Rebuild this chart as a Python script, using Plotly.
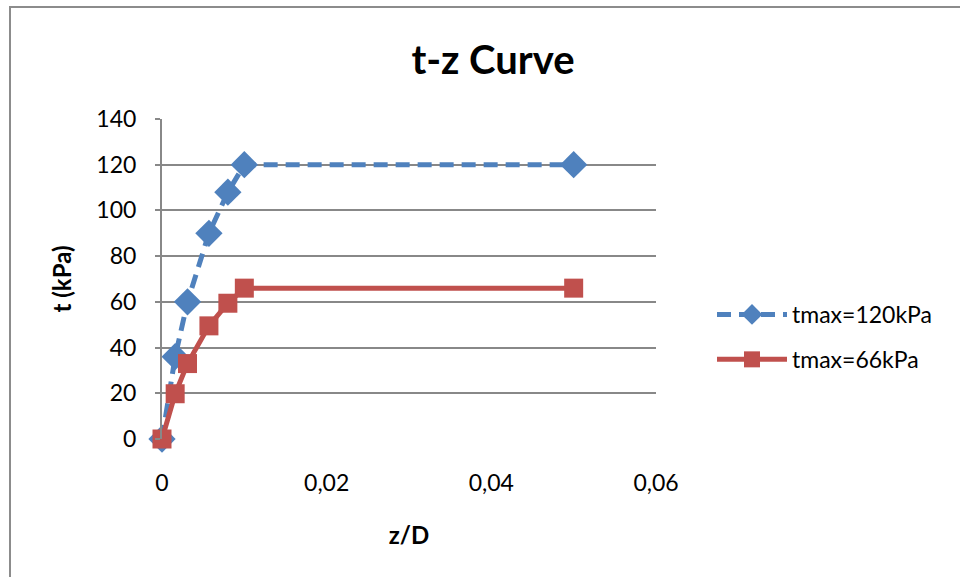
import plotly.graph_objects as go

# Data
zD = [0, 0.0016, 0.0031, 0.0057, 0.0080, 0.0100, 0.0500]
t_120 = [0, 36, 60, 90, 108, 120, 120]
t_66 = [0, 19.8, 33, 49.5, 59.4, 66, 66]
names = ["tmax=120kPa", "tmax=66kPa"]
x_ticks = [0, 0.02, 0.04, 0.06]
y_ticks = [0, 20, 40, 60, 80, 100, 120, 140]

FONT = "Lato, Calibri, 'Open Sans', sans-serif"
BLUE = "#4F81BD"
RED = "#C0504D"

fig = go.Figure()
fig.add_trace(go.Scatter(
    x=zD, y=t_120, name=names[0], mode="lines+markers", legendgroup="a",
    cliponaxis=False,
    line=dict(color=BLUE, width=5, dash="14px,8px"),
    marker=dict(symbol="diamond", size=21, color=BLUE),
))
fig.add_trace(go.Scatter(
    x=zD, y=t_66, name=names[1], mode="lines+markers", legendgroup="b",
    cliponaxis=False,
    line=dict(color=RED, width=5),
    marker=dict(symbol="square", size=19, color=RED),
))

L, R, T, B = 162, 656, 119, 439
W, H = 960, 577
pw, ph = R - L, B - T

def px(x):
    return (x - L) / pw

def py(y):
    return (B - y) / ph

fig.update_layout(
    width=W, height=H,
    margin=dict(l=L, r=W - R, t=T, b=H - B),
    paper_bgcolor="white", plot_bgcolor="white",
    separators=", ",
    font=dict(family=FONT, size=23, color="#000000"),
    title=dict(text="<b>t-z Curve</b>", x=493 / W, xref="container", xanchor="center",
               y=1 - 60 / H, yanchor="middle", font=dict(size=40)),
    showlegend=True,
    legend=dict(x=px(712), y=py(337), xref="paper", yref="paper",
                xanchor="left", yanchor="middle", font=dict(size=23),
                itemwidth=70,
                tracegroupgap=12, bgcolor="rgba(0,0,0,0)"),
    xaxis=dict(range=[0, 0.06], tickvals=x_ticks, showgrid=False, zeroline=False,
               showline=False, ticks="", ticklabelstandoff=28,
               title=dict(text="<b>z/D</b>", font=dict(size=24), standoff=32)),
    yaxis=dict(range=[0, 140], tickvals=y_ticks, showgrid=True, gridcolor="#888888",
               gridwidth=2, zeroline=False, showline=True, linecolor="#888888",
               linewidth=2, ticks="outside", ticklen=5, tickcolor="#888888",
               tickwidth=2, ticklabelstandoff=14,
               title=dict(text="<b>t (kPa)</b>", font=dict(size=24), standoff=18)),
    shapes=[dict(type="rect", xref="paper", yref="paper",
                 x0=px(10), x1=px(970), y0=py(590), y1=py(7),
                 line=dict(color="#8c8c8c", width=2), fillcolor="rgba(0,0,0,0)",
                 layer="below")],
)

fig.write_html("out.html")
